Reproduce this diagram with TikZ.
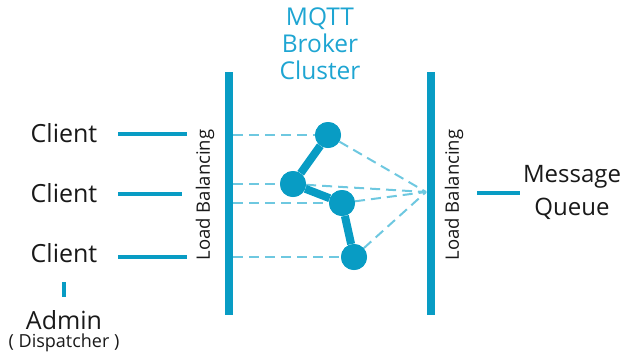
\documentclass[tikz,border=0pt]{standalone}
\usepackage{fontspec}
\setmainfont{Open Sans}
\usetikzlibrary{positioning, calc}
\definecolor{mqblue}{RGB}{8,156,196}
\definecolor{mqtitle}{RGB}{30,165,210}
\definecolor{mqdash}{RGB}{110,200,224}
\definecolor{mqtext}{RGB}{25,25,25}
\tikzset{
  bar/.style={rectangle, fill=mqblue, inner sep=0pt,
    minimum width=8pt, minimum height=243pt},
  broker/.style={circle, fill=mqblue, inner sep=0pt, minimum size=26pt},
  label/.style={font=\fontsize{25}{30}\selectfont, color=mqtext, align=center},
  lbtext/.style={font=\fontsize{18.5}{20}\selectfont, color=mqtext, rotate=90},
  stub/.style={line width=4pt, color=mqblue},
  link/.style={line width=8pt, color=mqblue},
  dashlink/.style={line width=2pt, color=mqdash, dash pattern=on 10pt off 6pt}
}
\begin{document}
\begin{tikzpicture}[x=1pt, y=-1pt]
  \useasboundingbox (0,0) rectangle (621,357);

  % Title
  \node[font=\fontsize{24.5}{27}\selectfont, color=mqtitle, align=center] (title) at (320,44) {MQTT\\Broker\\Cluster};

  % Load balancers
  \node[bar] (lbar) at (229,193.5) {};
  \node[bar] (rbar) at (431,193.5) {};
  \node[lbtext] (lbl) at (205,195) {Load Balancing};
  \node[lbtext] (lbr) at (454,195) {Load Balancing};
  \coordinate (merge) at (426,192);

  % Clients
  \node[label] (c1) at (64,133) {Client};
  \node[label] (c2) at (64,193) {Client};
  \node[label] (c3) at (64,253) {Client};
  \draw[stub] (118,134) -- (187,134);
  \draw[stub] (118,194) -- (182,194);
  \draw[stub] (118,257) -- (187,257);

  % Admin
  \node[label] (admin) at (64,320) {Admin};
  \node[font=\fontsize{18}{20}\selectfont, color=mqtext] (disp) at (64,343) {( Dispatcher )};
  \draw[line width=4pt, color=mqblue] (64,282) -- (64,297);

  % Message queue
  \node[label, align=center, font=\fontsize{24}{33}\selectfont] (mq) at (572,192) {Message\\Queue};
  \draw[stub] (477,193) -- (520,193);

  % Broker nodes
  \node[broker] (n1) at (328,135) {};
  \node[broker] (n2) at (293,184) {};
  \node[broker] (n3) at (342,203) {};
  \node[broker] (n4) at (354,257) {};

  % Dashed routes
  \foreach \n in {n1,n2,n3,n4} {
    \draw[dashlink] (lbar.east |- \n) -- (\n);
    \draw[dashlink] (\n) -- (merge);
  }

  % Cluster links
  \draw[link] (n1) -- (n2) -- (n3) -- (n4);
  \foreach \n in {n1,n2,n3,n4}
    \fill[mqblue] (\n) circle (13pt);
\end{tikzpicture}
\end{document}
